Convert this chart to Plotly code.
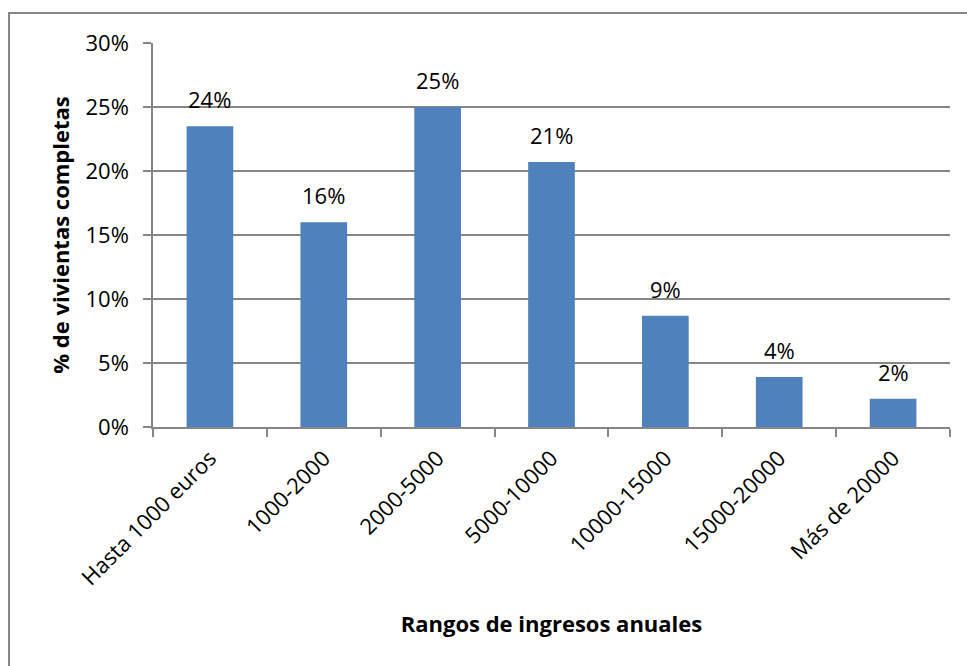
import plotly.graph_objects as go

categories = ["Hasta 1000 euros", "1000-2000", "2000-5000", "5000-10000",
              "10000-15000", "15000-20000", "Más de 20000"]
values = [0.235, 0.160, 0.250, 0.207, 0.087, 0.039, 0.022]
labels = ["24%", "16%", "25%", "21%", "9%", "4%", "2%"]
y_ticks = [0, 0.05, 0.10, 0.15, 0.20, 0.25, 0.30]
y_tick_text = ["0%", "5%", "10%", "15%", "20%", "25%", "30%"]

FONT = "Open Sans"
FS = 22
AXIS_GRAY = "#868686"

fig = go.Figure()
fig.add_trace(go.Bar(
    x=categories, y=values,
    marker=dict(color="#4F81BD", line=dict(width=0)),
    hoverinfo="skip",
))

for c, v, t in zip(categories, values, labels):
    fig.add_annotation(x=c, y=v, text=t, showarrow=False, yanchor="middle",
                       yshift=27, font=dict(family=FONT, size=FS, color="black"))

fig.update_layout(
    width=967, height=666,
    margin=dict(l=153, r=17, t=43, b=239),
    paper_bgcolor="white", plot_bgcolor="white",
    bargap=0.59,
    showlegend=False,
    font=dict(family=FONT, size=FS, color="black"),
    xaxis=dict(
        type="category",
        showline=True, linecolor=AXIS_GRAY, linewidth=1.5,
        ticks="outside", tickson="boundaries", ticklen=8, tickcolor=AXIS_GRAY, tickwidth=1.5,
        tickangle=-45, tickfont=dict(family=FONT, size=FS),
        ticklabelstandoff=8,
        showgrid=False,
        title=dict(text="<b>Rangos de ingresos anuales</b>", font=dict(family=FONT, size=FS), standoff=27),
    ),
    yaxis=dict(
        range=[0, 0.30],
        tickvals=y_ticks, ticktext=y_tick_text,
        showline=True, linecolor=AXIS_GRAY, linewidth=1.5,
        ticks="outside", ticklen=8, tickcolor=AXIS_GRAY, tickwidth=1.5,
        showgrid=True, gridcolor=AXIS_GRAY, gridwidth=1.5,
        zeroline=False,
        ticklabelstandoff=10,
        tickfont=dict(family=FONT, size=FS),
        title=dict(text="<b>% de vivientas completas</b>", font=dict(family=FONT, size=FS), standoff=10),
    ),
)

# outer chart border (extends beyond the visible window on right and bottom)
fig.add_shape(type="rect", xref="paper", yref="paper",
              x0=(9 - 153) / 797, x1=(975 - 153) / 797,
              y0=(427 - 675) / 384, y1=(427 - 13) / 384,
              line=dict(color=AXIS_GRAY, width=2), fillcolor="rgba(0,0,0,0)", layer="below")

fig.write_html("out.html")
